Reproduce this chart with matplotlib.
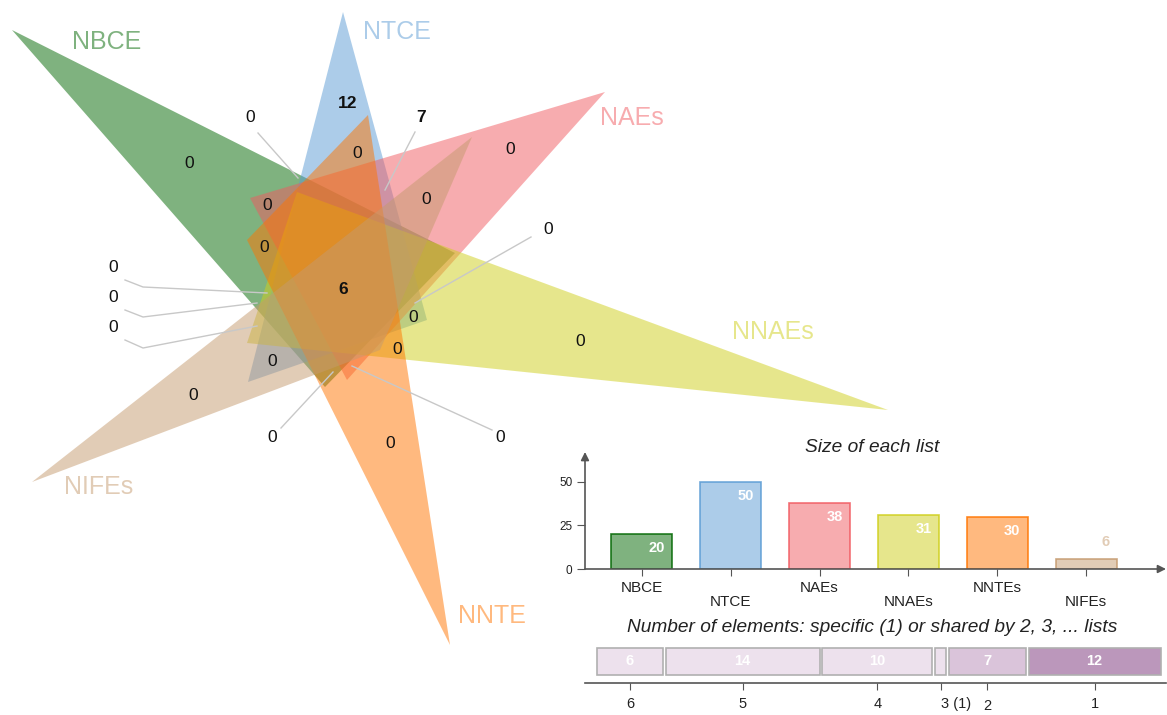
import matplotlib
matplotlib.use("Agg")
import matplotlib.pyplot as plt
from matplotlib.patches import Polygon
from matplotlib.colors import to_rgba

plt.rcParams['font.family'] = ['Liberation Sans', 'DejaVu Sans']

# ---------------- data ----------------
set_names = ["NBCE", "NTCE", "NAEs", "NNAEs", "NNTE", "NIFEs"]
bar_names = ["NBCE", "NTCE", "NAEs", "NNAEs", "NNTEs", "NIFEs"]
set_colors = ["#006600", "#5a9bd4", "#f15a60", "#cfcf1b", "#ff7500", "#c59a6e"]
list_sizes = [20, 50, 38, 31, 30, 6]

# counts printed inside the diagram regions
region_counts = [12, 7, 6,
                 0, 0, 0, 0, 0, 0, 0, 0, 0, 0,
                 0, 0, 0, 0, 0, 0, 0, 0, 0]
bold_counts = [True, True, True] + [False] * 19

# elements shared by n lists
shared_by = ["6", "5", "4", "3 (1)", "2", "1"]
shared_counts = [6, 14, 10, 1, 7, 12]
shared_colors = ["#ede1ed", "#ede1ed", "#ede1ed", "#ede1ed", "#dac4da", "#bb97bb"]

# ---------------- layout (pixel space of the figure) ----------------
W, H = 1167, 715
triangles = [
    [(12, 30), (455, 253), (325, 387)],     # NBCE
    [(343, 12), (427, 320), (248, 382)],    # NTCE
    [(605, 92), (250, 198), (347, 380)],    # NAEs
    [(888, 410), (297, 192), (247, 343)],   # NNAEs
    [(450, 645), (368, 115), (247, 240)],   # NNTE
    [(32, 482), (472, 137), (380, 350)],    # NIFEs
]
name_pos = [(107, 42), (397, 32), (632, 118), (773, 332), (492, 616), (99, 487)]

count_pos = [(348, 103), (421, 118), (343, 289),
             (250, 118), (189, 164), (357, 153), (510, 150), (267, 205),
             (426, 199), (264, 248), (548, 229), (113, 268), (113, 298),
             (113, 328), (413, 318), (580, 341), (397, 350), (272, 361),
             (193, 395), (272, 437), (390, 443), (500, 437)]

leaders = [
    [(258, 133), (298, 178)],
    [(415, 132), (385, 190)],
    [(531, 237), (415, 303)],
    [(125, 280), (143, 287), (267, 293)],
    [(125, 310), (143, 317), (257, 303)],
    [(125, 340), (143, 348), (257, 326)],
    [(281, 428), (333, 372)],
    [(492, 430), (352, 366)],
]

fig = plt.figure(figsize=(W / 100, H / 100), dpi=100)

# ---------------- Venn diagram ----------------
ax = fig.add_axes([0, 0, 1, 1])
ax.set_xlim(0, W)
ax.set_ylim(H, 0)
ax.axis('off')

for tri, col in zip(triangles, set_colors):
    ax.add_patch(Polygon(tri, closed=True, facecolor=col, alpha=0.5,
                         edgecolor='none', zorder=1))

for pts in leaders:
    xs, ys = zip(*pts)
    ax.plot(xs, ys, color='#c8c8c8', lw=1.0, zorder=2)

for name, (x, y), col in zip(set_names, name_pos, set_colors):
    ax.text(x, y, name, color=col, alpha=0.5, fontsize=18,
            ha='center', va='center', zorder=3)

for n, (x, y), b in zip(region_counts, count_pos, bold_counts):
    ax.text(x, y, str(n), fontsize=12.5, color='#111111',
            fontweight='bold' if b else 'normal',
            ha='center', va='center', zorder=3)


def px_axes(x0, y0, x1, y1):
    return fig.add_axes([x0 / W, 1 - y1 / H, (x1 - x0) / W, (y1 - y0) / H])


axis_col = '#555555'

# ---------------- list sizes bar chart ----------------
bx = px_axes(585, 452, 1166, 569)
xpos = list(range(len(list_sizes)))
bx.set_xlim(-0.64, 5.9)
bx.set_ylim(0, 67)
for i, (v, col) in enumerate(zip(list_sizes, set_colors)):
    bx.bar(i, v, width=0.687, color=to_rgba(col, 0.5),
           edgecolor=to_rgba(col, 0.85), linewidth=1.2)
    if v >= 0.2 * max(list_sizes):
        bx.annotate(str(v), xy=(i + 0.17, v), xytext=(0, -10),
                    textcoords='offset points', ha='center', va='center',
                    color='white', fontsize=10.5, fontweight='bold')
    else:
        bx.annotate(str(v), xy=(i + 0.22, v), xytext=(0, 12),
                    textcoords='offset points', ha='center', va='center',
                    color=to_rgba(col, 0.5), fontsize=10.5, fontweight='bold')

for s in bx.spines.values():
    s.set_visible(False)
bx.annotate('', xy=(1, 0), xytext=(0, 0), xycoords='axes fraction',
            arrowprops=dict(arrowstyle='-|>', color=axis_col, lw=1.2,
                            mutation_scale=12, shrinkA=0, shrinkB=0))
bx.annotate('', xy=(0, 1), xytext=(0, 0), xycoords='axes fraction',
            arrowprops=dict(arrowstyle='-|>', color=axis_col, lw=1.2,
                            mutation_scale=12, shrinkA=0, shrinkB=0))
bx.set_yticks([0, 25, 50])
bx.tick_params(axis='y', length=6, color=axis_col, labelsize=8.5,
               labelcolor='#222222', pad=3)
bx.set_xticks(xpos)
bx.set_xticklabels([n if i % 2 == 0 else '\n' + n for i, n in enumerate(bar_names)],
                   fontsize=11, color='#222222', linespacing=1.0)
bx.tick_params(axis='x', length=5, color=axis_col, pad=4)
bx.patch.set_alpha(0)

fig.text(872 / W, 1 - 447 / H, "Size of each list", fontsize=13.8,
         style='italic', ha='center', va='center', color='#222222')
fig.text(872 / W, 1 - 627 / H,
         "Number of elements: specific (1) or shared by 2, 3, ... lists",
         fontsize=13.8, style='italic', ha='center', va='center', color='#222222')

# ---------------- shared-elements stacked bar ----------------
sx = px_axes(585, 645, 1166, 683)
gap = 0.26
lefts = []
cur = 0.0
for v in shared_counts:
    lefts.append(cur)
    cur += v + gap
sx.set_xlim(-1.1, 51.8)
sx.set_ylim(0, 1)
centers = []
for left, v, col in zip(lefts, shared_counts, shared_colors):
    sx.barh(0.57, v, left=left, height=0.70, color=col,
            edgecolor='#b0b0b0', linewidth=1.2)
    centers.append(left + v / 2)
    if v >= 3:
        sx.text(left + v / 2, 0.57, str(v), ha='center', va='center',
                color='white', fontsize=10.5, fontweight='bold')

for name, s in sx.spines.items():
    s.set_visible(name == 'bottom')
sx.spines['bottom'].set_color(axis_col)
sx.spines['bottom'].set_linewidth(1.2)
sx.set_yticks([])
sx.set_xticks(centers)
# the "2" label is staggered below its neighbours
stagger = 4
labels = sx.set_xticklabels([lab if i != stagger else ''
                             for i, lab in enumerate(shared_by)],
                            fontsize=10.5, color='#222222')
labels[3].set_horizontalalignment('left')
sx.annotate(shared_by[stagger], xy=(centers[stagger], 0),
            xycoords=('data', 'axes fraction'), xytext=(0, -16.5),
            textcoords='offset points', ha='center', va='center',
            fontsize=10.5, color='#222222', annotation_clip=False)
sx.tick_params(axis='x', length=5, color=axis_col, pad=5)
sx.patch.set_alpha(0)

fig.savefig("out.png", dpi=100)
